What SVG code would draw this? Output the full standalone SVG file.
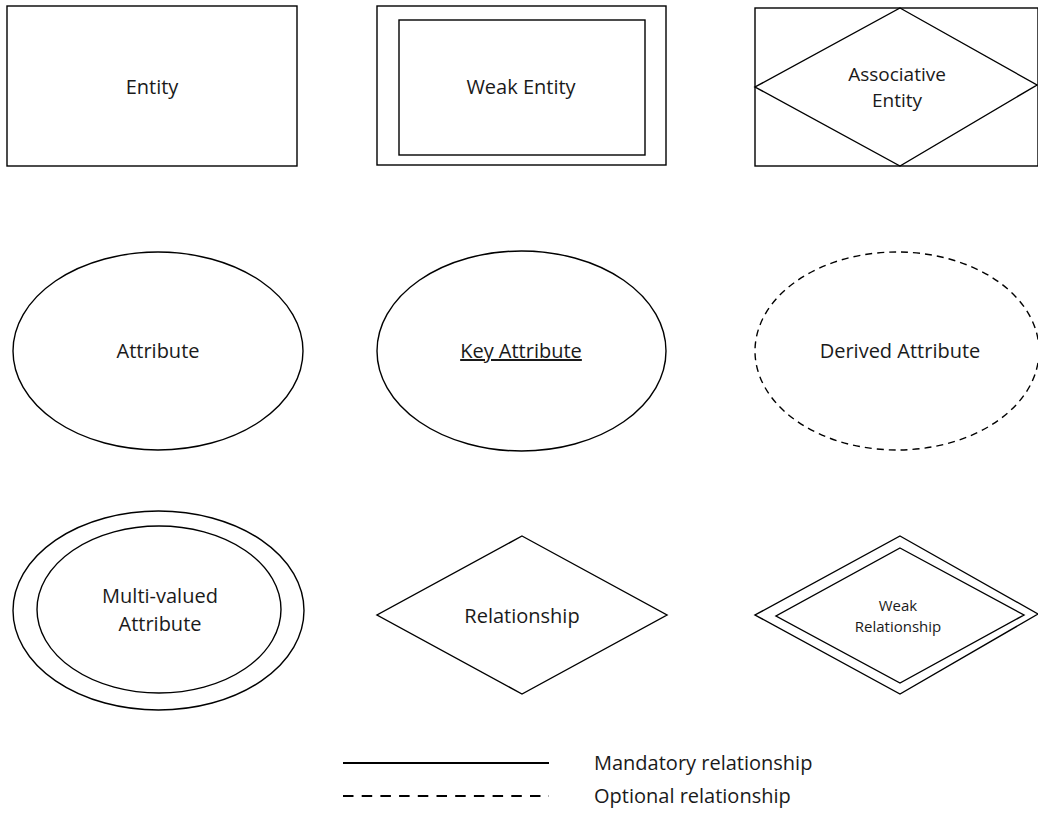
<svg xmlns="http://www.w3.org/2000/svg" width="1038" height="829" viewBox="0 0 1038 829">
<style>
.s{fill:#fff;stroke:#000;stroke-width:1.4}
.n{fill:none;stroke:#000;stroke-width:1.4}
.d{fill:#fff;stroke:#000;stroke-width:1.4;stroke-dasharray:7,5}
.t{font-family:"Open Sans","Liberation Sans",sans-serif;font-size:20px;fill:#1a1a1a;text-anchor:middle}
.sm{font-size:15px}
.md{font-size:19px}
.lg{font-family:"Open Sans","Liberation Sans",sans-serif;font-size:20px;fill:#1a1a1a}
</style>
<rect width="1038" height="829" fill="#fff"/>
<g id="entity">
<rect class="s" x="7" y="6" width="290" height="160"/>
<text class="t" x="152" y="94">Entity</text>
</g>
<g id="weak-entity">
<rect class="s" x="377" y="6" width="289" height="159"/>
<rect class="n" x="399" y="20" width="246" height="135"/>
<text class="t" x="521" y="94">Weak Entity</text>
</g>
<g id="associative-entity">
<rect class="s" x="755" y="8" width="283" height="158"/>
<polygon class="n" points="900,8 1037,85 900,166 755,87"/>
<text class="t md" x="897" y="81">Associative</text>
<text class="t md" x="897" y="107">Entity</text>
</g>
<g id="attribute">
<ellipse class="s" cx="158" cy="351" rx="145" ry="99"/>
<text class="t" x="158" y="358">Attribute</text>
</g>
<g id="key-attribute">
<ellipse class="s" cx="521.5" cy="351" rx="144.5" ry="100"/>
<text class="t" x="521" y="358" text-decoration="underline">Key Attribute</text>
</g>
<g id="derived-attribute">
<ellipse class="d" cx="897" cy="351" rx="142" ry="99"/>
<text class="t" x="900" y="358">Derived Attribute</text>
</g>
<g id="multi-valued-attribute">
<ellipse class="s" cx="158.5" cy="610.5" rx="145.5" ry="99.5"/>
<ellipse class="n" cx="159" cy="609.5" rx="122" ry="83.5"/>
<text class="t" x="160" y="603">Multi-valued</text>
<text class="t" x="160" y="631">Attribute</text>
</g>
<g id="relationship">
<polygon class="s" points="522,536 667,615 522,694 377,615"/>
<text class="t" x="522" y="623">Relationship</text>
</g>
<g id="weak-relationship">
<polygon class="s" points="900,536 1038,614 900,694 755,615"/>
<polygon class="n" points="900,548 1024,615 900,683 776,616"/>
<text class="t sm" x="898" y="611">Weak</text>
<text class="t sm" x="898" y="632">Relationship</text>
</g>
<g id="connectors">
<line x1="343" y1="763" x2="549" y2="763" stroke="#000" stroke-width="2.2"/>
<line x1="343" y1="796" x2="549" y2="796" stroke="#000" stroke-width="2.2" stroke-dasharray="10.5,8.2"/>
</g>
<g id="legend">
<text class="lg" x="594" y="770">Mandatory relationship</text>
<text class="lg" x="594" y="803">Optional relationship</text>
</g>
</svg>
